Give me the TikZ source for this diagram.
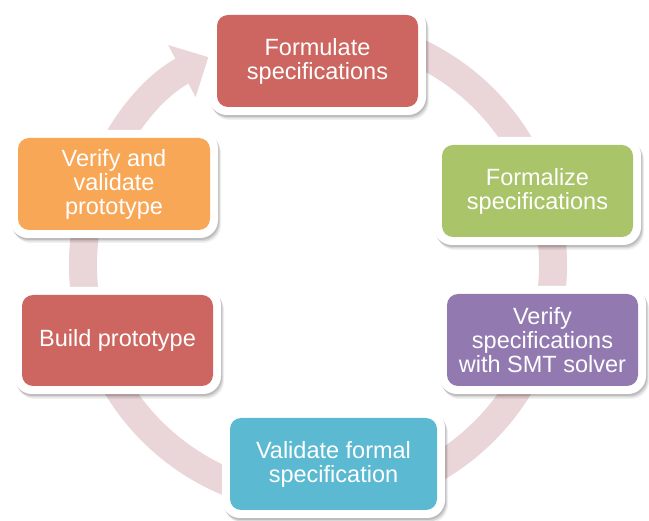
\documentclass[tikz,border=0pt]{standalone}
\usepackage{fontspec}
\setmainfont{Liberation Sans}
\usetikzlibrary{arrows.meta,shadows}

\definecolor{ringpink}{RGB}{234,214,216}
\definecolor{cRed}{RGB}{205,102,96}
\definecolor{cGreen}{RGB}{170,196,106}
\definecolor{cPurple}{RGB}{146,122,177}
\definecolor{cBlue}{RGB}{91,186,209}
\definecolor{cOrange}{RGB}{248,167,87}

\tikzset{
  frame/.style={fill=white, draw=none, rounded corners=18pt,
    drop shadow={shadow xshift=1pt, shadow yshift=-2pt, opacity=0.12, fill=black},
    drop shadow={shadow xshift=2pt, shadow yshift=-3.5pt, opacity=0.10, fill=black},
    drop shadow={shadow xshift=3pt, shadow yshift=-5pt, opacity=0.06, fill=black},
    inner sep=0pt},
  stage/.style={draw=none, rounded corners=11pt, inner sep=0pt, align=center,
    text=white, font=\fontsize{23.5}{24}\selectfont},
  ring/.style={draw=ringpink, line width=28pt,
    -{Triangle[width=57pt,length=30pt]}},
}

\begin{document}
\begin{tikzpicture}[x=1pt,y=1pt]
\useasboundingbox (0,0) rectangle (649,-521);

% the cycle ring with its arrowhead
\coordinate (c) at (318,-265);
\draw[ring] (c) ++(80:235) arc[start angle=80, end angle=-242.2, radius=235];

% white frames behind the stages
\node[frame, minimum width=217pt, minimum height=108pt] (f1) at (317.5,-61) {};
\node[frame, minimum width=207pt, minimum height=108pt] (f2) at (537.5,-191) {};
\node[frame, minimum width=207pt, minimum height=108pt] (f3) at (542.5,-340) {};
\node[frame, minimum width=223pt, minimum height=108pt] (f4) at (333.5,-464) {};
\node[frame, minimum width=207pt, minimum height=107pt] (f5) at (117.5,-340.5) {};
\node[frame, minimum width=208pt, minimum height=108pt] (f6) at (114,-184) {};

% stages
\node[stage, fill=cRed, minimum width=201pt, minimum height=92pt] (s1) at (f1) {Formulate\\specifications};
\node[stage, fill=cGreen, minimum width=191pt, minimum height=92pt] (s2) at (f2) {Formalize\\specifications};
\node[stage, fill=cPurple, minimum width=191pt, minimum height=92pt] (s3) at (f3) {Verify\\specifications\\with SMT solver};
\node[stage, fill=cBlue, minimum width=207pt, minimum height=92pt] (s4) at (f4) {Validate formal\\specification};
\node[stage, fill=cRed, minimum width=191pt, minimum height=91pt] (s5) at (f5) {Build prototype};
\node[stage, fill=cOrange, minimum width=192pt, minimum height=92pt] (s6) at (f6) {Verify and\\validate\\prototype};
\end{tikzpicture}
\end{document}
